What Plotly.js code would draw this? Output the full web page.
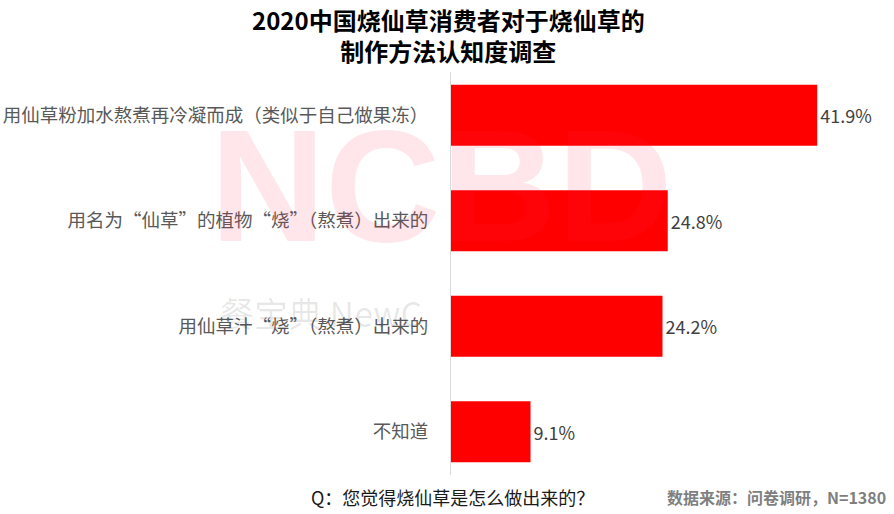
<!DOCTYPE html>
<html>
<head>
<meta charset="utf-8">
<script src="https://cdn.plot.ly/plotly-3.0.1.min.js"></script>
<style>
  html, body { margin: 0; padding: 0; background: #ffffff; }
  #chart { width: 894px; height: 514px; }
</style>
</head>
<body>
<div id="chart"></div>
<script>
// ---- data ----
const categories = [
  '用仙草粉加水熬煮再冷凝而成（类似于自己做果冻）',
  '用名为“仙草”的植物“烧”（熬煮）出来的',
  '用仙草汁“烧”（熬煮）出来的',
  '不知道'
];
const values = [41.9, 24.8, 24.2, 9.1];
const valueLabels = values.map(v => v.toFixed(1) + '%');

const titleText = '<b>2020中国烧仙草消费者对于烧仙草的<br>制作方法认知度调查</b>';
const questionText = 'Q：您觉得烧仙草是怎么做出来的？';
const sourceText = '<b>数据来源：问卷调研，N=1380</b>';
const watermarkLetters = ['N', 'C', 'B', 'D'];
const watermarkSub = '餐宝典 NewC';

const CJK = '"Noto Sans CJK SC", "Noto Sans", sans-serif';

const trace = {
  type: 'bar',
  orientation: 'h',
  y: categories,
  x: values,
  text: valueLabels,
  textposition: 'outside',
  textfont: { family: CJK, size: 18, color: '#404040' },
  marker: { color: '#ff0000', line: { width: 0 } },
  cliponaxis: false,
  hoverinfo: 'none'
};

const wmX = [-0.418, -0.155, 0.11, 0.375];
const annotations = watermarkLetters.map((ch, i) => ({
  xref: 'paper', yref: 'paper',
  x: wmX[i], y: 0.718,
  xanchor: 'center', yanchor: 'middle',
  text: '<b>' + ch + '</b>',
  showarrow: false,
  font: { family: '"Liberation Sans", sans-serif', size: 160, color: 'rgba(245,30,70,0.11)' }
}));
annotations.push({
  xref: 'paper', yref: 'paper',
  x: -0.534, y: 0.403,
  xanchor: 'left', yanchor: 'middle',
  text: watermarkSub,
  showarrow: false,
  font: { family: CJK, size: 34, color: 'rgba(0,0,0,0.09)' }
});
annotations.push({
  xref: 'paper', yref: 'paper',
  x: -0.0046, y: 1.092,
  xanchor: 'center', yanchor: 'middle',
  text: titleText,
  showarrow: false,
  font: { family: CJK, size: 24, color: '#000000' }
});
annotations.push({
  xref: 'paper', yref: 'paper',
  x: 0.004, y: -0.0546,
  xanchor: 'center', yanchor: 'middle',
  text: questionText,
  showarrow: false,
  font: { family: CJK, size: 18, color: '#1a1a1a' }
});
annotations.push({
  xref: 'paper', yref: 'paper',
  x: 1.0, y: -0.0546,
  xanchor: 'right', yanchor: 'middle',
  text: sourceText,
  showarrow: false,
  font: { family: CJK, size: 16, color: '#7f7f7f' }
});

const layout = {
  width: 894,
  height: 514,
  margin: { l: 451, r: 6, t: 72, b: 39, pad: 0 },
  paper_bgcolor: '#ffffff',
  plot_bgcolor: 'rgba(0,0,0,0)',
  showlegend: false,
  bargap: 0.423,
  xaxis: {
    range: [0, 50],
    visible: false,
    showgrid: false,
    zeroline: false,
    fixedrange: true
  },
  yaxis: {
    type: 'category',
    range: [3.41, -0.41],
    showline: true,
    linecolor: '#d9d9d9',
    linewidth: 1,
    showgrid: false,
    zeroline: false,
    ticks: '',
    ticklabelstandoff: 18,
    tickfont: { family: CJK, size: 18.5, color: '#595959' },
    fixedrange: true
  },
  annotations: annotations
};

Plotly.newPlot('chart', [trace], layout, { displayModeBar: false, staticPlot: true });
</script>
</body>
</html>
